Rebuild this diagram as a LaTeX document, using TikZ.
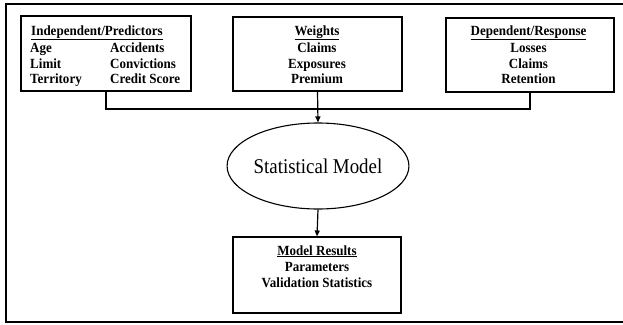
\documentclass[tikz,border=0pt]{standalone}
\usepackage{fontspec}
\setmainfont{Liberation Serif}
\newfontfamily\condserif[FakeStretch=0.93]{Liberation Serif}
\newfontfamily\condmodel[FakeStretch=0.9]{Liberation Serif}
\usetikzlibrary{arrows.meta,shapes.geometric}
\begin{document}
\begin{tikzpicture}[x=1pt,y=-1pt,
  box/.style={draw, line width=1.1pt, inner sep=0pt},
  txt/.style={inner sep=0pt, font=\condserif\fontsize{14}{16}\bfseries\selectfont},
  conn/.style={line width=1.2pt},
  arr/.style={line width=1.2pt, -{Triangle[length=6pt,width=5pt]}}]
\useasboundingbox (0,0) rectangle (623,324);
% outer frame
\coordinate (ftr) at (623,4);
\coordinate (ftl) at (6,4);
\coordinate (fbl) at (6,322);
\coordinate (fbr) at (623,322);
\draw[line width=1.5pt] (ftr) -- (ftl) -- (fbl) -- (fbr);
% boxes
\node[box, minimum width=170pt, minimum height=75pt] (b1) at (106,53.5) {};
\node[box, minimum width=169pt, minimum height=74pt] (b2) at (317.5,54) {};
\node[box, minimum width=168pt, minimum height=74pt] (b3) at (530,55) {};
\node[draw, ellipse, line width=1.1pt, inner sep=0pt, minimum width=163pt, minimum height=86pt,
      font=\condmodel\fontsize{21}{24}\selectfont] (ell) at (318,166) {Statistical Model};
\node[box, minimum width=168pt, minimum height=76pt] (b4) at (317,275) {};
% box 1 texts
\node[txt, anchor=base west] (h1) at (31,35) {\underline{Independent/Predictors}};
\node[txt, anchor=base west] (t1a) at (30,52) {Age};
\node[txt, anchor=base west] (t1b) at (30,68) {Limit};
\node[txt, anchor=base west] (t1c) at (30,83) {Territory};
\node[txt, anchor=base west] (t1d) at (110,52) {Accidents};
\node[txt, anchor=base west] (t1e) at (110,68) {Convictions};
\node[txt, anchor=base west] (t1f) at (110,83) {Credit Score};
% box 2 texts
\node[txt, anchor=base] (h2) at (317,35) {\underline{Weights}};
\node[txt, anchor=base] (t2a) at (317,52) {Claims};
\node[txt, anchor=base] (t2b) at (317,68) {Exposures};
\node[txt, anchor=base] (t2c) at (317,83) {Premium};
% box 3 texts
\node[txt, anchor=base] (h3) at (528.5,35) {\underline{Dependent/Response}};
\node[txt, anchor=base] (t3a) at (528.5,52) {Losses};
\node[txt, anchor=base] (t3b) at (528.5,68) {Claims};
\node[txt, anchor=base] (t3c) at (528.5,83) {Retention};
% box 4 texts
\node[txt, anchor=base] (h4) at (317,255) {\underline{Model Results}};
\node[txt, anchor=base] (t4a) at (317,271) {Parameters};
\node[txt, anchor=base] (t4b) at (317,287) {Validation Statistics};
% connectors
\coordinate (j) at (317,109);
\draw[conn] (b1.south) |- (j) -| (b3.south);
\draw[arr] (b2.south) -- (ell.north);
\draw[arr] (ell.south) -- (b4.north);
\end{tikzpicture}
\end{document}
